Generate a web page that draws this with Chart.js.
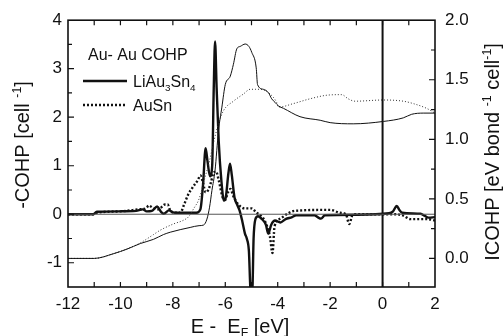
<!DOCTYPE html>
<html>
<head>
<meta charset="utf-8">
<script src="https://cdn.jsdelivr.net/npm/chart.js@4.4.0/dist/chart.umd.min.js"></script>
<style>
  html, body { margin: 0; padding: 0; background: #fff; }
  canvas { display: block; }
</style>
</head>
<body>
<canvas id="cohpChart" width="504" height="336"></canvas>
<script>
// -COHP, LiAu3Sn4 (thick solid, left axis)
const cohpLiE = [-12, -11.05, -10.9, -10.0, -9.4, -9.15, -9.0, -8.8, -8.6, -8.45, -8.35, -8.15, -8.0, -7.8, -7.1, -6.95, -6.85, -6.75, -6.68, -6.58, -6.5, -6.44, -6.39, -6.33, -6.25, -6.15, -6.05, -5.98, -5.88, -5.82, -5.75, -5.65, -5.55, -5.45, -5.35, -5.25, -5.18, -5.1, -5.03, -4.97, -4.92, -4.85, -4.75, -4.6, -4.45, -4.36, -4.25, -4.1, -3.9, -3.7, -3.45, -3.3, -2.6, -2.45, -2.35, -2.2, -1.0, 0.25, 0.4, 0.54, 0.65, 0.75, 1.45, 1.6, 1.75, 2];
const cohpLiV = [0, 0, 0.05, 0.06, 0.07, 0.1, 0.06, 0.07, 0.16, 0.05, 0.01, 0.08, 0.04, 0.03, 0.03, 0.1, 0.6, 1.36, 1.1, 0.78, 1.0, 2.6, 3.56, 2.6, 1.5, 0.7, 0.28, 0.35, 0.85, 1.04, 0.8, 0.35, 0.2, 0.07, -0.15, -0.4, -0.5, -0.75, -1.6, -1.6, -0.5, -0.1, -0.04, -0.1, -0.22, -0.4, -0.22, -0.13, -0.17, -0.1, -0.06, -0.02, -0.02, -0.07, -0.09, -0.02, -0.01, 0.02, 0.06, 0.17, 0.08, 0.03, 0.01, -0.03, -0.07, -0.06];

// -COHP, AuSn (thick dotted, left axis)
const cohpAuSnE = [-12, -11.0, -10.9, -10.0, -9.3, -9.0, -8.93, -8.75, -8.55, -8.3, -8.2, -8.1, -7.95, -7.72, -7.57, -7.42, -7.25, -7.05, -6.95, -6.85, -6.75, -6.65, -6.55, -6.45, -6.35, -6.25, -6.1, -6.0, -5.9, -5.8, -5.7, -5.5, -5.25, -5.0, -4.8, -4.6, -4.48, -4.3, -4.2, -4.12, -3.9, -3.6, -3.35, -2.0, -1.62, -1.4, -1.27, -1.15, -1.0, 0.5, 0.8, 1.05, 1.7, 2];
const cohpAuSnV = [0, 0, 0.03, 0.06, 0.1, 0.13, 0.18, 0.13, 0.1, 0.2, 0.2, 0.08, 0.03, 0.03, 0.2, 0.4, 0.55, 0.7, 0.8, 0.65, 0.45, 0.5, 0.65, 0.85, 0.88, 0.7, 0.35, 0.3, 0.45, 0.52, 0.38, 0.2, 0.12, 0.12, 0.03, -0.05, -0.15, -0.45, -0.8, -0.25, -0.09, 0.02, 0.07, 0.09, 0.03, 0.0, -0.2, -0.02, 0.0, 0.0, -0.03, -0.1, -0.1, -0.13];

// ICOHP, LiAu3Sn4 (thin solid, right axis)
const icohpLiE = [-12, -11.0, -10.26, -9.75, -9.24, -8.74, -8.36, -8.1, -7.34, -7.0, -6.83, -6.7, -6.6, -6.51, -6.39, -6.26, -6.13, -6.0, -5.81, -5.69, -5.56, -5.43, -5.24, -5.1, -4.99, -4.82, -4.77, -4.55, -4.35, -4.23, -4.1, -3.97, -3.78, -3.15, -2.38, -2.0, -1.12, 0.03, 0.79, 1.11, 1.55, 2];
const icohpLiV = [0, 0, 0.04, 0.078, 0.125, 0.16, 0.2, 0.22, 0.26, 0.275, 0.28, 0.33, 0.43, 0.57, 0.74, 1.07, 1.27, 1.46, 1.53, 1.63, 1.76, 1.78, 1.80, 1.78, 1.73, 1.6, 1.46, 1.42, 1.39, 1.34, 1.31, 1.28, 1.26, 1.19, 1.16, 1.14, 1.13, 1.15, 1.18, 1.21, 1.22, 1.22];

// ICOHP, AuSn (thin dotted, right axis)
const icohpAuSnE = [-12, -11.0, -10.26, -9.75, -9.24, -8.74, -8.48, -7.97, -7.6, -7.4, -7.2, -7.0, -6.8, -6.6, -6.45, -6.26, -6.07, -5.69, -5.31, -5.05, -4.86, -4.67, -4.29, -4.04, -3.97, -3.4, -2.77, -2.13, -1.56, -1.31, -1.05, 0.03, 0.79, 1.17, 1.68, 2];
const icohpAuSnV = [0, 0, 0.04, 0.08, 0.13, 0.2, 0.237, 0.29, 0.32, 0.35, 0.42, 0.5, 0.66, 0.82, 0.97, 1.13, 1.24, 1.32, 1.38, 1.42, 1.42, 1.42, 1.38, 1.31, 1.27, 1.3, 1.34, 1.37, 1.375, 1.34, 1.32, 1.33, 1.32, 1.3, 1.26, 1.22];

// reference lines
const zeroLineE = [-12, 2];
const zeroLineV = [0, 0];
const fermiE = [0, 0];
const fermiV = [-1.5, 4];

// axis ticks
const xTicks = [-12, -10, -8, -6, -4, -2, 0, 2];
const xMinor = [-11, -10, -9, -8, -7, -6, -5, -4, -3, -2, -1, 0, 1];
const leftTicks = [-1, 0, 1, 2, 3, 4];
const leftMinor = [-1, -0.5, 0, 0.5, 1, 1.5, 2, 2.5, 3, 3.5];
const rightTicks = [0, 0.5, 1.0, 1.5, 2.0];
const rightMinor = [0, 0.25, 0.5, 0.75, 1.0, 1.25, 1.5, 1.75];

const FONT = "'Liberation Sans', Arial, Helvetica, sans-serif";
const INK = '#111';

function pts(xs, ys) {
    return xs.map((x, i) => ({ x: x, y: ys[i] }));
}

// draw a string made of parts (normal / sup / sub)
function richText(ctx, parts, x, y, size, align) {
    const sizes = parts.map(p => p.s ? size * 0.62 : size);
    let total = 0;
    parts.forEach((p, i) => {
        ctx.font = sizes[i] + 'px ' + FONT;
        total += ctx.measureText(p.t).width;
    });
    let cx = align === 'center' ? x - total / 2 : x;
    parts.forEach((p, i) => {
        ctx.font = sizes[i] + 'px ' + FONT;
        let dy = 0;
        if (p.s === 'sup') dy = -size * 0.42;
        if (p.s === 'sub') dy = size * 0.22;
        ctx.fillText(p.t, cx, y + dy);
        cx += ctx.measureText(p.t).width;
    });
}

const decorPlugin = {
    id: 'decor',
    afterDatasetsDraw(chart) {
        const ctx = chart.ctx;
        const a = chart.chartArea;
        const sx = chart.scales.x, sy = chart.scales.y, sr = chart.scales.y2;
        ctx.save();
        ctx.strokeStyle = INK;
        ctx.lineWidth = 1.2;
        ctx.beginPath();
        xMinor.forEach(v => {
            const px = sx.getPixelForValue(v);
            ctx.moveTo(px, a.bottom); ctx.lineTo(px, a.bottom - 5);
            ctx.moveTo(px, a.top); ctx.lineTo(px, a.top + 5);
        });
        leftMinor.forEach(v => {
            const py = sy.getPixelForValue(v);
            const len = Number.isInteger(v) ? 6 : 4;
            ctx.moveTo(a.left, py); ctx.lineTo(a.left + len, py);
        });
        rightMinor.forEach(v => {
            const py = sr.getPixelForValue(v);
            const len = (v * 2) % 1 === 0 ? 6 : 4;
            ctx.moveTo(a.right, py); ctx.lineTo(a.right - len, py);
        });
        ctx.stroke();

        ctx.lineWidth = 1.6;
        ctx.strokeRect(a.left, a.top, a.right - a.left, a.bottom - a.top);
        ctx.restore();
    },
    afterDraw(chart) {
        const ctx = chart.ctx;
        ctx.save();
        ctx.fillStyle = INK;
        ctx.textBaseline = 'alphabetic';

        // x title
        richText(ctx, [{ t: 'E -  E' }, { t: 'F', s: 'sub' }, { t: ' [eV]' }], 240, 333, 20, 'center');

        // left title
        ctx.save();
        ctx.translate(29, 145);
        ctx.rotate(-Math.PI / 2);
        richText(ctx, [{ t: '-COHP [cell ' }, { t: '-1', s: 'sup' }, { t: ']' }], 0, 0, 20, 'center');
        ctx.restore();

        // right title
        ctx.save();
        ctx.translate(499, 152);
        ctx.rotate(-Math.PI / 2);
        richText(ctx, [{ t: 'ICOHP [eV bond ' }, { t: '-1', s: 'sup' }, { t: ' cell' }, { t: '-1', s: 'sup' }, { t: ']' }], 0, 0, 20, 'center');
        ctx.restore();

        // legend
        richText(ctx, [{ t: 'Au- Au COHP' }], 88, 60, 16, 'left');
        ctx.strokeStyle = INK;
        ctx.lineWidth = 2.4;
        ctx.beginPath();
        ctx.moveTo(83, 81); ctx.lineTo(127, 81);
        ctx.stroke();
        ctx.setLineDash([2, 2]);
        ctx.beginPath();
        ctx.moveTo(83, 105); ctx.lineTo(127, 105);
        ctx.stroke();
        ctx.setLineDash([]);
        richText(ctx, [{ t: 'LiAu' }, { t: '3', s: 'sub' }, { t: 'Sn' }, { t: '4', s: 'sub' }], 133, 87, 16, 'left');
        richText(ctx, [{ t: 'AuSn' }], 133, 111, 16, 'left');
        ctx.restore();
    }
};

const ctx = document.getElementById('cohpChart').getContext('2d');
new Chart(ctx, {
    type: 'line',
    data: {
        datasets: [
            {
                label: 'zero',
                data: pts(zeroLineE, zeroLineV),
                yAxisID: 'y',
                borderColor: '#555',
                borderWidth: 1,
                pointRadius: 0
            },
            {
                label: 'Ef',
                data: pts(fermiE, fermiV),
                yAxisID: 'y',
                borderColor: INK,
                borderWidth: 2,
                pointRadius: 0
            },
            {
                label: 'ICOHP LiAu3Sn4',
                data: pts(icohpLiE, icohpLiV),
                yAxisID: 'y2',
                borderColor: INK,
                borderWidth: 1,
                pointRadius: 0,
                cubicInterpolationMode: 'monotone'
            },
            {
                label: 'ICOHP AuSn',
                data: pts(icohpAuSnE, icohpAuSnV),
                yAxisID: 'y2',
                borderColor: '#333',
                borderWidth: 1,
                borderDash: [1, 2],
                pointRadius: 0,
                cubicInterpolationMode: 'monotone'
            },
            {
                label: 'AuSn',
                data: pts(cohpAuSnE, cohpAuSnV),
                yAxisID: 'y',
                borderColor: INK,
                borderWidth: 2.4,
                borderDash: [2, 2],
                pointRadius: 0,
                cubicInterpolationMode: 'monotone'
            },
            {
                label: 'LiAu3Sn4',
                data: pts(cohpLiE, cohpLiV),
                yAxisID: 'y',
                borderColor: INK,
                borderWidth: 2.4,
                pointRadius: 0,
                cubicInterpolationMode: 'monotone'
            }
        ]
    },
    options: {
        responsive: false,
        animation: false,
        devicePixelRatio: 1,
        layout: { padding: { top: 19, left: 0, right: 0, bottom: 0 } },
        plugins: {
            legend: { display: false },
            tooltip: { enabled: false }
        },
        scales: {
            x: {
                type: 'linear',
                min: -12,
                max: 2,
                grid: { display: false, drawTicks: false },
                border: { display: false },
                afterBuildTicks: s => { s.ticks = xTicks.map(v => ({ value: v })); },
                afterFit: s => { s.height = 49; },
                ticks: {
                    color: INK,
                    padding: 7,
                    maxRotation: 0,
                    font: { family: FONT, size: 17 }
                }
            },
            y: {
                position: 'left',
                min: -1.5,
                max: 4,
                grid: { display: false, drawTicks: false },
                border: { display: false },
                afterBuildTicks: s => { s.ticks = leftTicks.map(v => ({ value: v })); },
                afterFit: s => { s.width = 68; },
                ticks: {
                    color: INK,
                    padding: 6,
                    font: { family: FONT, size: 17 }
                }
            },
            y2: {
                position: 'right',
                min: -0.24,
                max: 2.0,
                grid: { display: false, drawTicks: false },
                border: { display: false },
                afterBuildTicks: s => { s.ticks = rightTicks.map(v => ({ value: v })); },
                afterFit: s => { s.width = 69; },
                ticks: {
                    color: INK,
                    padding: 10,
                    font: { family: FONT, size: 17 },
                    callback: v => v.toFixed(1)
                }
            }
        }
    },
    plugins: [decorPlugin]
});
</script>
</body>
</html>
